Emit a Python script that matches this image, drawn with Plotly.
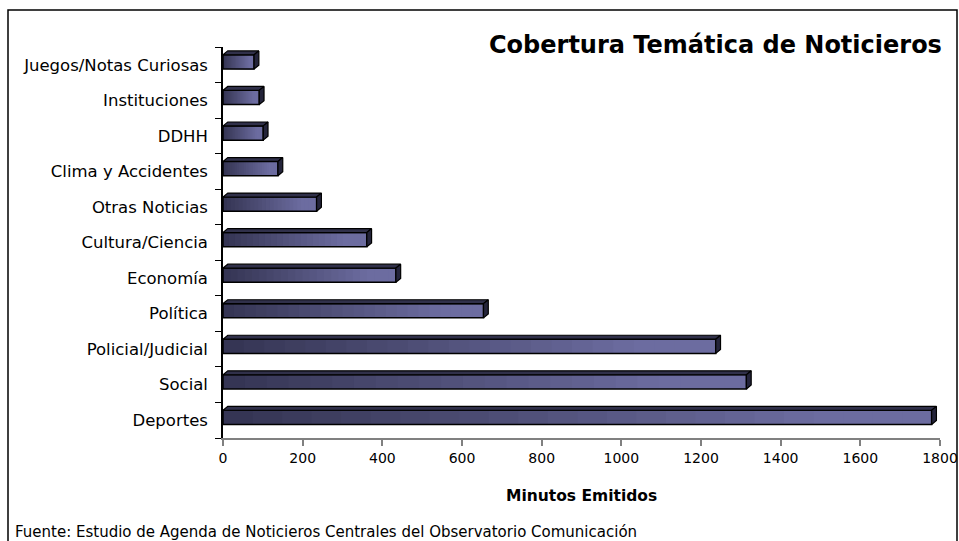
import plotly.graph_objects as go

# datos (de abajo hacia arriba)
temas = ["Deportes", "Social", "Policial/Judicial", "Política", "Economía",
         "Cultura/Ciencia", "Otras Noticias", "Clima y Accidentes", "DDHH",
         "Instituciones", "Juegos/Notas Curiosas"]
minutos = [1779, 1314, 1237, 654, 434, 361, 235, 138, 101, 91, 78]
ticks_x = [0, 200, 400, 600, 800, 1000, 1200, 1400, 1600, 1800]

FONT = "DejaVu Sans"
pos = list(range(len(temas)))

# geometria del efecto 3D (unidades de datos)
ancho = 0.40
desp = -0.12           # la barra queda un poco por encima del centro
dx = 12                # profundidad horizontal
dy = 0.11              # profundidad vertical

fig = go.Figure()

# degradado: tramos superpuestos, cada uno desde su inicio hasta el final
n_tramos = 24
oscuro = (52, 52, 82)
claro = (108, 108, 160)
for k in range(n_tramos):
    t = min(1.0, (k + 0.5) / n_tramos / 0.85)
    col = tuple(round(oscuro[i] + (claro[i] - oscuro[i]) * t) for i in range(3))
    fig.add_trace(go.Bar(
        y=pos,
        x=[v * (n_tramos - k) / n_tramos for v in minutos],
        base=[v * k / n_tramos for v in minutos],
        orientation="h",
        width=ancho,
        offset=desp,
        marker=dict(color="rgb(%d,%d,%d)" % col, line=dict(width=0)),
        hoverinfo="skip",
        showlegend=False,
    ))

# caras superior y lateral
sup_x, sup_y, lat_x, lat_y = [], [], [], []
for p, v in zip(pos, minutos):
    y_top = p + desp + ancho
    y_bot = p + desp
    sup_x += [0, dx, v + dx, v, 0, None]
    sup_y += [y_top, y_top + dy, y_top + dy, y_top, y_top, None]
    lat_x += [v, v, v + dx, v + dx, v, None]
    lat_y += [y_bot, y_top, y_top + dy, y_bot + dy, y_bot, None]

fig.add_trace(go.Scatter(
    x=sup_x, y=sup_y, mode="lines", fill="toself",
    fillcolor="rgb(48,48,74)", line=dict(color="black", width=1.2),
    hoverinfo="skip", showlegend=False,
))
fig.add_trace(go.Scatter(
    x=lat_x, y=lat_y, mode="lines", fill="toself",
    fillcolor="rgb(36,36,58)", line=dict(color="black", width=1.2),
    hoverinfo="skip", showlegend=False,
))

# contorno de la cara frontal
fig.add_trace(go.Bar(
    y=pos, x=minutos, base=0, orientation="h",
    width=ancho, offset=desp,
    marker=dict(color="rgba(0,0,0,0)", line=dict(color="black", width=1.5)),
    hovertemplate="%{customdata}: %{x}<extra></extra>",
    customdata=temas,
    showlegend=False,
))

fig.update_layout(
    width=959, height=541, autosize=False,
    margin=dict(l=223, r=19, t=47, b=103),
    paper_bgcolor="white", plot_bgcolor="white",
    barmode="overlay",
    font=dict(family=FONT, color="black"),
    xaxis=dict(
        range=[0, 1800], tickvals=ticks_x, automargin=False,
        showgrid=False, zeroline=False,
        showline=True, linecolor="#808080", linewidth=1.5,
        ticks="outside", ticklen=6, tickcolor="#808080", tickwidth=1.5,
        tickfont=dict(family=FONT, size=14, color="black"),
    ),
    yaxis=dict(
        range=[-0.5, len(temas) - 0.5], automargin=False,
        tickvals=pos, ticktext=temas,
        showgrid=False, zeroline=False,
        showline=True, linecolor="black", linewidth=1.5,
        ticks="", ticklabelstandoff=10,
        tickfont=dict(family=FONT, size=16.5, color="black"),
        minor=dict(tickvals=[p - 0.5 for p in range(len(temas) + 1)],
                   ticks="outside", ticklen=6, tickcolor="black", tickwidth=1.2,
                   showgrid=False),
    ),
    shapes=[dict(
        type="rect", xref="paper", yref="paper",
        x0=(8 - 223) / 717, x1=(957 - 223) / 717,
        y0=-0.35, y1=1 + 37 / 391,
        line=dict(color="black", width=1.5), fillcolor="rgba(0,0,0,0)",
        layer="below",
    )],
    annotations=[
        dict(text="<b>Cobertura Temática de Noticieros</b>",
             xref="paper", yref="paper", x=(944 - 223) / 717, y=1 + 2 / 391,
             xanchor="right", yanchor="middle", showarrow=False,
             font=dict(family=FONT, size=24, color="black")),
        dict(text="<b>Minutos Emitidos</b>",
             xref="paper", yref="paper", x=0.5, y=-(496 - 438) / 391,
             xanchor="center", yanchor="middle", showarrow=False,
             font=dict(family=FONT, size=15.5, color="black")),
        dict(text="Fuente: Estudio de Agenda de Noticieros Centrales del Observatorio Comunicación",
             xref="paper", yref="paper", x=(13 - 223) / 717, y=-(532 - 438) / 391,
             xanchor="left", yanchor="middle", showarrow=False,
             font=dict(family=FONT, size=15, color="black")),
    ],
)

# sin margen ni barras de desplazamiento: la figura ocupa justo la ventana
estilo = ("document.body.style.margin='0';"
          "document.body.style.overflow='hidden';"
          "document.documentElement.style.overflow='hidden';")
fig.write_html("out.html", config={"displayModeBar": False}, post_script=estilo)
